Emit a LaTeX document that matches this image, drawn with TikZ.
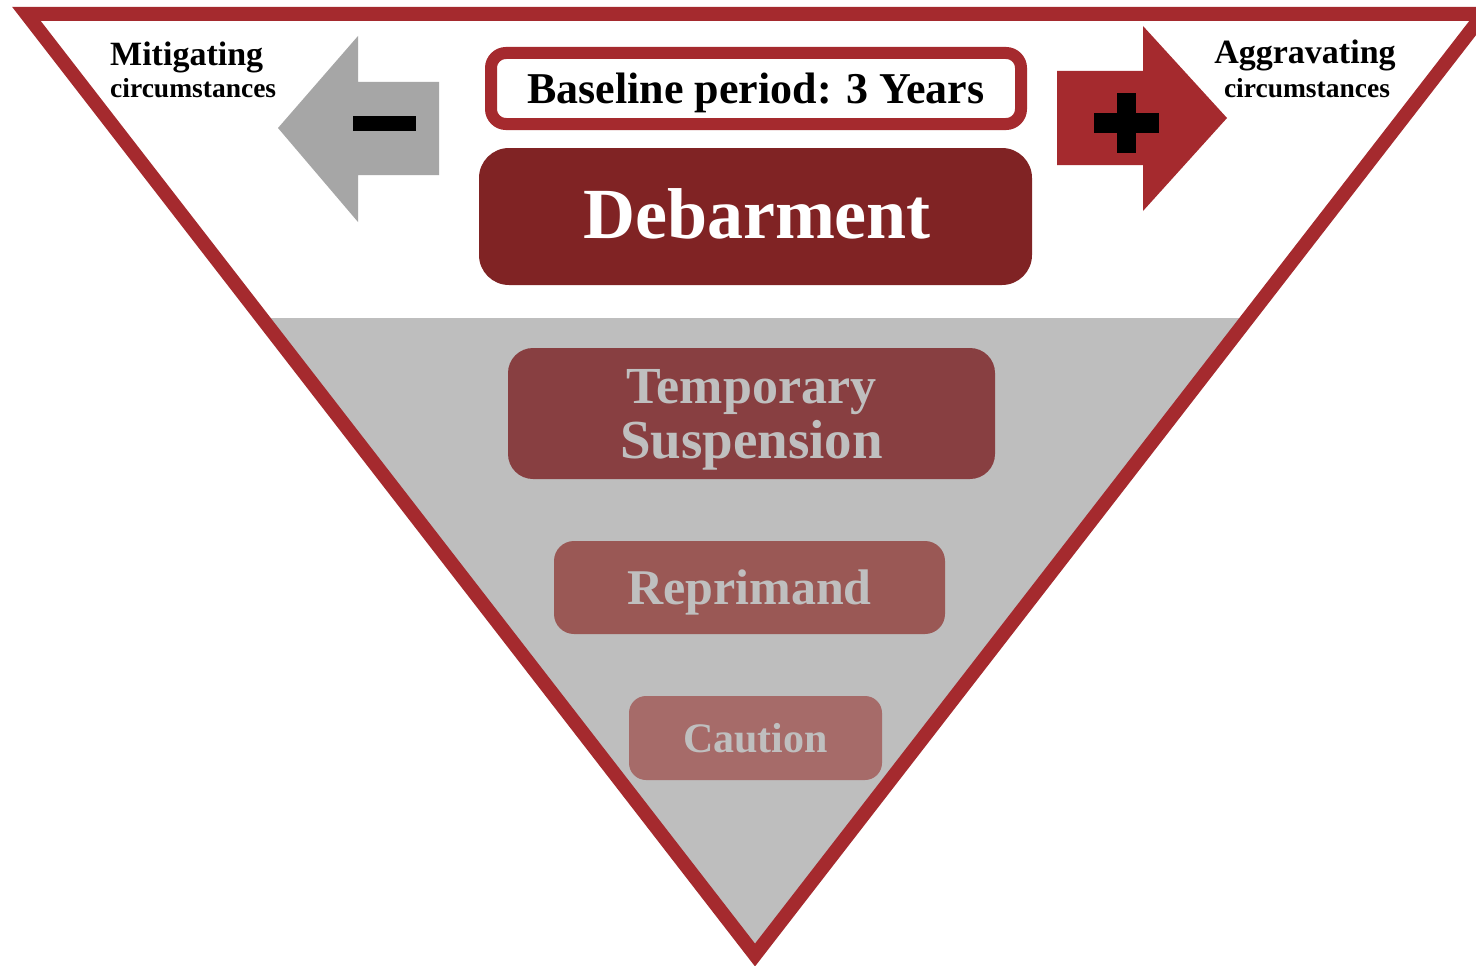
\documentclass[tikz,border=0pt]{standalone}
\usepackage{fontspec}
\setmainfont{Liberation Serif}
\definecolor{bordred}{HTML}{A52A2E}
\definecolor{debred}{HTML}{802324}
\definecolor{tempred}{HTML}{883F41}
\definecolor{repred}{HTML}{9A5855}
\definecolor{cautred}{HTML}{A66B69}
\definecolor{bggray}{HTML}{BEBEBE}
\definecolor{arrgray}{HTML}{A6A6A6}
\definecolor{fadetext}{HTML}{BFBFBF}
\tikzset{
  fs/.style={font=\bfseries\fontsize{#1}{#1}\selectfont},
  levelbox/.style={draw=none, inner sep=0pt},
  lbl/.style={anchor=base, inner sep=0pt},
}
\begin{document}
\begin{tikzpicture}[x=1pt,y=-1pt]
\useasboundingbox (0,0) rectangle (1476,966);
\fill[white] (0,0) rectangle (1476,966);
% gray lower region
\fill[bggray] (262,318) -- (1248,318) -- (755,955) -- cycle;
% triangle border
\draw[bordred, line width=14pt, line join=miter] (26.5,14) -- (1483.5,14) -- (755,955) -- cycle;

% baseline box
\node[draw=bordred, line width=12pt, fill=white, rounded corners=15pt,
      minimum width=530pt, minimum height=71pt, inner sep=0pt] (base) at (756,88.5) {};
\node[lbl, fs=44] (basetxt) at (756,103) {Baseline period: 3 Years};

% debarment
\node[levelbox, fill=debred, rounded corners=30pt, minimum width=553pt, minimum height=137pt] (debar) at (755.5,216.5) {};
\node[lbl, fs=72, text=white] (debartxt) at (757,238) {Debarment};

% temporary suspension
\node[levelbox, fill=tempred, rounded corners=25pt, minimum width=487pt, minimum height=131pt] (temp) at (751.5,413.5) {};
\node[lbl, fs=52, text=fadetext] (temptxt1) at (751.5,403) {Temporary};
\node[lbl, fs=55, text=fadetext] (temptxt2) at (751.5,458) {Suspension};

% reprimand
\node[levelbox, fill=repred, rounded corners=20pt, minimum width=391pt, minimum height=93pt] (repr) at (749.5,587.5) {};
\node[lbl, fs=50, text=fadetext] (reprtxt) at (749.5,604) {Reprimand};

% caution
\node[levelbox, fill=cautred, rounded corners=17pt, minimum width=253pt, minimum height=84pt] (caut) at (755.5,738) {};
\node[lbl, fs=42, text=fadetext] (cauttxt) at (755.5,752) {Caution};

% left gray arrow with minus
\fill[arrgray] (278,128) -- (358,36) -- (358,82) -- (439,82) -- (439,175) -- (358,175) -- (358,222) -- cycle;
\fill[black] (353,116) rectangle (416,131);

% right red arrow with plus
\fill[bordred] (1057,71) -- (1143,71) -- (1143,26) -- (1227,118) -- (1143,211) -- (1143,165) -- (1057,165) -- cycle;
\fill[black] (1117,93) rectangle (1136,153);
\fill[black] (1094,113) rectangle (1159,133);

% side labels
\node[anchor=base west, inner sep=0pt, fs=34] (mit) at (110,66) {Mitigating};
\node[anchor=base west, inner sep=0pt, fs=27.5] (mitc) at (110,97) {circumstances};
\node[lbl, fs=34] (agg) at (1305,64) {Aggravating};
\node[lbl, fs=27.5] (aggc) at (1307,97) {circumstances};
\end{tikzpicture}
\end{document}
